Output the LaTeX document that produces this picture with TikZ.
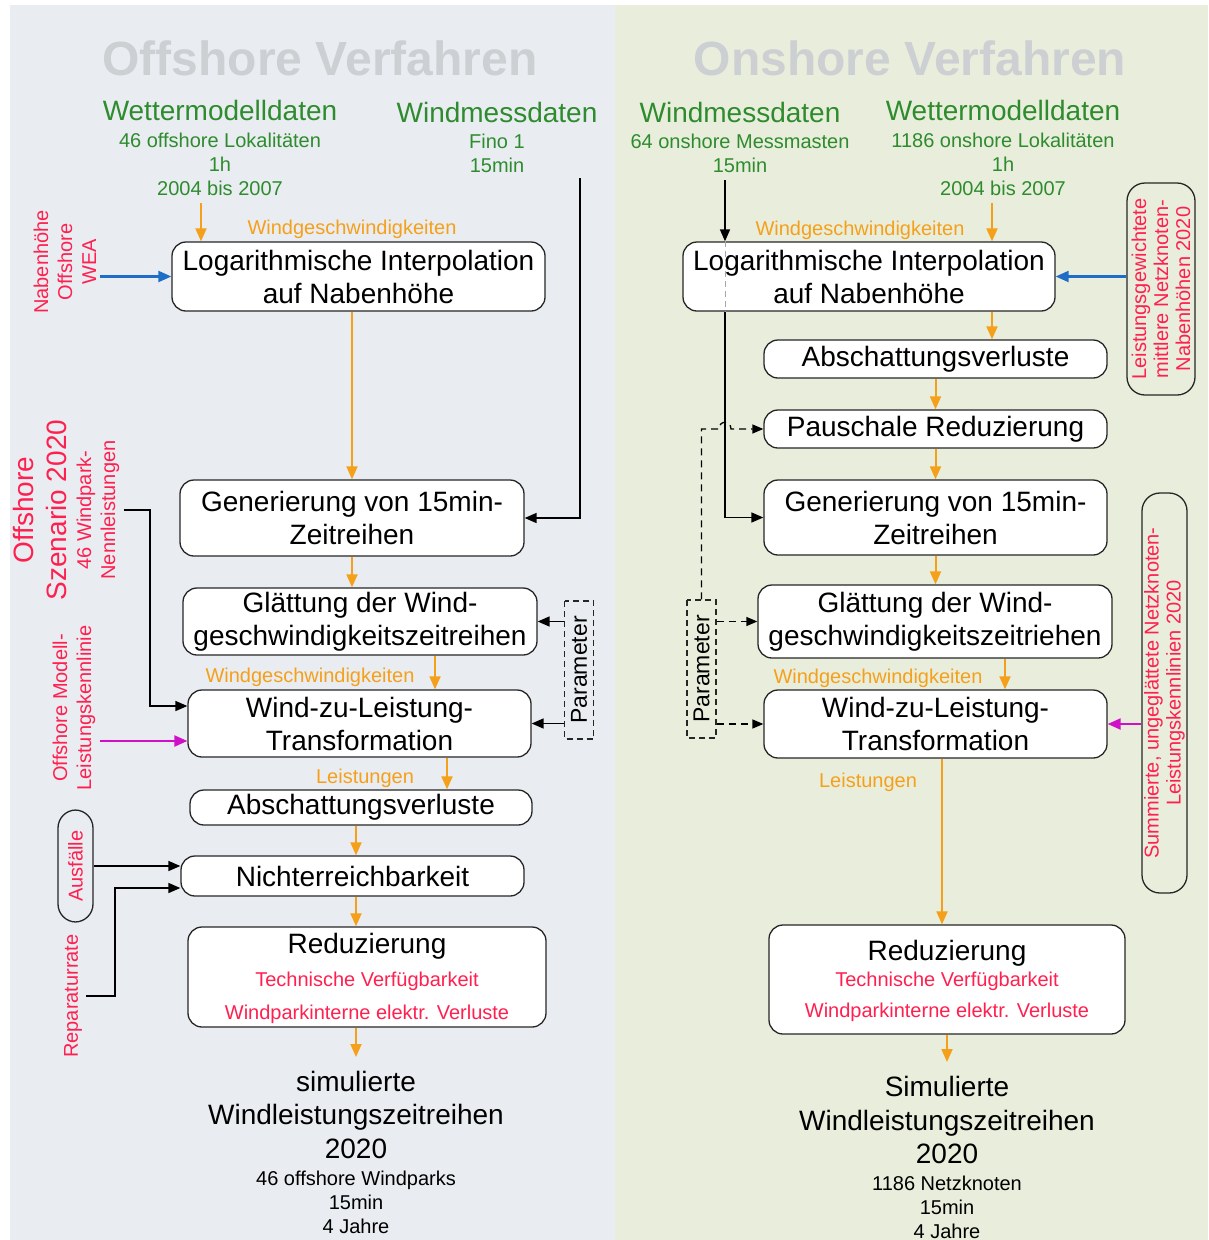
\documentclass[tikz,border=0pt]{standalone}
\usepackage{fontspec}
\setmainfont{Liberation Sans}
\usetikzlibrary{arrows.meta,calc}
\definecolor{lbg}{HTML}{E9EDF1}
\definecolor{rbg}{HTML}{E9EEDC}
\definecolor{ogr}{HTML}{F5A01A}
\definecolor{grn}{HTML}{2E8B2E}
\definecolor{rd}{HTML}{FF2050}
\definecolor{blu}{HTML}{1E6EC8}
\definecolor{mag}{HTML}{D010C8}
\definecolor{ttl}{HTML}{CDD0D2}
\begin{document}
\begin{tikzpicture}[x=1pt,y=-1pt,
  box/.style={draw=black!85,line width=1.3pt,rounded corners=14pt,fill=white,inner sep=0pt,align=center,font=\fontsize{28}{33}\selectfont},
  bx/.style 2 args={box,minimum width=#1,minimum height=#2},
  big/.style={font=\fontsize{28}{33}\selectfont,inner sep=0pt,anchor=base},
  sm/.style={font=\fontsize{20}{24}\selectfont,inner sep=0pt,anchor=base},
  hd/.style={font=\fontsize{28}{32}\selectfont,text=grn,inner sep=0pt,anchor=base},
  ttlsty/.style={font=\fontsize{48}{52}\selectfont\bfseries,text=ttl,inner sep=0pt,anchor=base},
  rot/.style={rotate=90,align=center,text=rd,font=\fontsize{20}{24}\selectfont,inner sep=4pt},
  rbox/.style 2 args={rotate=90,align=center,text=rd,font=\fontsize{20}{22}\selectfont,inner sep=0pt,draw=black!85,line width=1.3pt,rounded corners=18pt,minimum width=#1,minimum height=#2},
  pbox/.style={rotate=90,draw=black!85,line width=1.2pt,dash pattern=on 6pt off 4pt,font=\fontsize{23}{26}\selectfont,inner sep=0pt,minimum width=138pt,minimum height=29pt},
  oarr/.style={draw=ogr,line width=2pt,-{Triangle[length=13pt,width=11pt]}},
  karr/.style={draw=black,line width=1.6pt,-{Triangle[length=12pt,width=10pt]}},
  barr/.style={draw=blu,line width=2.2pt,-{Triangle[length=13pt,width=11pt]}},
  marr/.style={draw=mag,line width=2.2pt,-{Triangle[length=13pt,width=11pt]}},
  darr/.style={draw=black,line width=1.3pt,dash pattern=on 7pt off 5pt,-{Triangle[length=11pt,width=9pt]}}]
\fill[white] (0,0) rectangle (1208,1240);
\useasboundingbox (0,0) rectangle (1208,1240);
\fill[lbg] (10,5) rectangle (615,1240);
\fill[rbg] (615,5) rectangle (1208,1240);

% ---------- left: offshore ----------
\node[ttlsty] (tL) at (320,75) {Offshore Verfahren};
\node[hd] (wmL) at (220,120) {Wettermodelldaten};
\node[sm,text=grn] (wmL1) at (220,147) {46 offshore Lokalitäten};
\node[sm,text=grn] (wmL2) at (220,171) {1h};
\node[sm,text=grn] (wmL3) at (220,195) {2004 bis 2007};
\node[hd] (wdL) at (497,122) {Windmessdaten};
\node[sm,text=grn] (wdL1) at (497,148) {Fino 1};
\node[sm,text=grn] (wdL2) at (497,172) {15min};

\node[sm,text=ogr] (wgL1) at (352,234) {Windgeschwindigkeiten};
\node[bx={373pt}{69pt}] (L1) at (358.5,276.5) {Logarithmische Interpolation\\auf Nabenhöhe};
\node[rot] (nab) at (65,262) {Nabenhöhe\\Offshore\\WEA};
\node[bx={344pt}{76pt}] (L2) at (352,518) {Generierung von 15min-\\Zeitreihen};
\node[bx={354pt}{67pt}] (L3) at (360,621.5) {Glättung der Wind-\\geschwindigkeitszeitreihen};
\node[pbox] (PL) at (579,670) {Parameter};
\node[sm,text=ogr] (wgL2) at (310,682) {Windgeschwindigkeiten};
\node[bx={343pt}{67pt}] (L4) at (359.5,723.5) {Wind-zu-Leistung-\\Transformation};
\node[rot,font=\fontsize{28}{33}\selectfont] (szen) at (40,510) {Offshore\\Szenario 2020};
\node[rot] (nenn) at (98,510) {46 Windpark-\\Nennleistungen};
\node[rot] (modl) at (74,708) {Offshore Modell-\\Leistungskennlinie};
\node[sm,text=ogr] (lsL) at (365,783) {Leistungen};
\node[bx={342pt}{35pt}] (L5) at (361,807.5) {Abschattungsverluste};
\node[bx={343pt}{40pt}] (L6) at (352.5,876) {Nichterreichbarkeit};
\node[rbox={112pt}{35pt}] (AU) at (75.5,866) {Ausfälle};
\node[rot] (rep) at (73,996) {Reparaturrate};
\node[bx={358pt}{100pt}] (L7) at (367,977) {};
\node[big] (L7a) at (367,953) {Reduzierung};
\node[sm,text=rd] (L7b) at (367,986) {Technische Verfügbarkeit};
\node[sm,text=rd] (L7c) at (367,1019) {Windparkinterne elektr. Verluste};
\node[big] (oL1) at (356,1091) {simulierte};
\node[big] (oL2) at (356,1124) {Windleistungszeitreihen};
\node[big] (oL3) at (356,1158) {2020};
\node[sm] (oL4) at (356,1185) {46 offshore Windparks};
\node[sm] (oL5) at (356,1209) {15min};
\node[sm] (oL6) at (356,1233) {4 Jahre};

\coordinate (sL1) at (201,203);
\draw[oarr] (sL1) -- (sL1 |- L1.north);
\draw[barr] (nab.south |- L1.west) -- (L1.west);
\draw[oarr] (L2.north |- L1.south) -- (L2.north);
\coordinate (sFino) at (580,178);
\draw[karr] (sFino) |- (L2.east);
\draw[oarr] (L2.south) -- (L2.south |- L3.north);
\draw[karr] (PL.north |- L3.east) -- (L3.east);
\draw[karr] (PL.north |- L4.east) -- (L4.east);
\coordinate (xa) at (435,0);
\draw[oarr] (L3.south -| xa) -- (L4.north -| xa);
\coordinate (L4k) at ([yshift=17.5pt]L4.west);
\coordinate (L4m) at ([yshift=-17.5pt]L4.west);
\coordinate (xn) at (150,0);
\draw[karr] (nenn.south) -- (nenn.south -| xn) |- (L4k);
\draw[marr] (modl.south |- L4m) -- (L4m);
\coordinate (xb) at (447,0);
\draw[oarr] (L4.south -| xb) -- (L5.north -| xb);
\coordinate (xc) at (356,0);
\draw[oarr] (L5.south -| xc) -- (L6.north -| xc);
\draw[oarr] (L6.south -| xc) -- (L7.north -| xc);
\coordinate (oL) at (356,1057);
\draw[oarr] (L7.south -| oL) -- (oL);
\coordinate (L6a) at ([yshift=10pt]L6.west);
\coordinate (L6b) at ([yshift=-12pt]L6.west);
\draw[karr] (AU.south |- L6a) -- (L6a);
\coordinate (xr) at (115,0);
\draw[karr] (rep.south) -- (rep.south -| xr) |- (L6b);

% ---------- right: onshore ----------
\node[ttlsty] (tR) at (910,75) {Onshore Verfahren};
\node[hd] (wdR) at (740,122) {Windmessdaten};
\node[sm,text=grn] (wdR1) at (740,148) {64 onshore Messmasten};
\node[sm,text=grn] (wdR2) at (740,172) {15min};
\node[hd] (wmR) at (1003,120) {Wettermodelldaten};
\node[sm,text=grn] (wmR1) at (1003,147) {1186 onshore Lokalitäten};
\node[sm,text=grn] (wmR2) at (1003,171) {1h};
\node[sm,text=grn] (wmR3) at (1003,195) {2004 bis 2007};
\node[sm,text=ogr] (wgR1) at (860,235) {Windgeschwindigkeiten};
\node[bx={372pt}{69pt}] (R1) at (869,276.5) {Logarithmische Interpolation\\auf Nabenhöhe};
\node[rbox={212pt}{68pt}] (LR) at (1161,289) {Leistungsgewichtete\\mittlere Netzknoten-\\Nabenhöhen 2020};
\node[bx={343pt}{38pt}] (R2) at (935.5,359) {Abschattungsverluste};
\node[bx={343pt}{38pt}] (R3) at (935.5,429) {Pauschale Reduzierung};
\node[bx={343pt}{75pt}] (R4) at (935.5,517.5) {Generierung von 15min-\\Zeitreihen};
\node[bx={354pt}{73pt}] (R5) at (935,621.5) {Glättung der Wind-\\geschwindigkeitszeitriehen};
\node[pbox] (PR) at (701.5,669) {Parameter};
\node[sm,text=ogr] (wgR2) at (878,683) {Windgeschwindigkeiten};
\node[bx={343pt}{68pt}] (R6) at (935.5,724) {Wind-zu-Leistung-\\Transformation};
\node[rbox={400pt}{45pt}] (SU) at (1164.5,693) {Summierte, ungeglättete Netzknoten-\\Leistungskennlinien 2020};
\node[sm,text=ogr] (lsR) at (868,787) {Leistungen};
\node[bx={356pt}{109pt}] (R7) at (947,979.5) {};
\node[big] (R7a) at (947,960) {Reduzierung};
\node[sm,text=rd] (R7b) at (947,986) {Technische Verfügbarkeit};
\node[sm,text=rd] (R7c) at (947,1017) {Windparkinterne elektr. Verluste};
\node[big] (oR1) at (947,1096) {Simulierte};
\node[big] (oR2) at (947,1130) {Windleistungszeitreihen};
\node[big] (oR3) at (947,1163) {2020};
\node[sm] (oR4) at (947,1190) {1186 Netzknoten};
\node[sm] (oR5) at (947,1214) {15min};
\node[sm] (oR6) at (947,1238) {4 Jahre};

\coordinate (sWR) at (725,180);
\draw[karr] (sWR) -- (sWR |- R1.north);
\draw[gray!70,line width=1pt,dash pattern=on 6pt off 4pt] (sWR |- R1.north) -- (sWR |- R1.south);
\draw[karr] (sWR |- R1.south) |- (R4.west);
\coordinate (sWmR) at (992,203);
\draw[oarr] (sWmR) -- (sWmR |- R1.north);
\draw[oarr] (sWmR |- R1.south) -- (sWmR |- R2.north);
\draw[barr] (LR.north |- R1.east) -- (R1.east);
\draw[oarr] (R3.north |- R2.south) -- (R3.north);
\draw[oarr] (R4.north |- R3.south) -- (R4.north);
\draw[oarr] (R4.south) -- (R4.south |- R5.north);
\draw[darr] (PR.east) -- (PR.east |- R3.west) -- ($(sWR |- R3.west)+(-6,0)$) .. controls +(0,-9) and +(0,-9) .. ($(sWR |- R3.west)+(6,0)$) -- (R3.west);
\draw[darr] (PR.south |- R5.west) -- (R5.west);
\draw[darr] (PR.south |- R6.west) -- (R6.west);
\coordinate (xd) at (1005,0);
\draw[oarr] (R5.south -| xd) -- (R6.north -| xd);
\draw[marr] (SU.north |- R6.east) -- (R6.east);
\coordinate (xe) at (942,0);
\draw[oarr] (R6.south -| xe) -- (R7.north -| xe);
\coordinate (oR) at (947,1062);
\draw[oarr] (R7.south -| oR) -- (oR);
\end{tikzpicture}
\end{document}
